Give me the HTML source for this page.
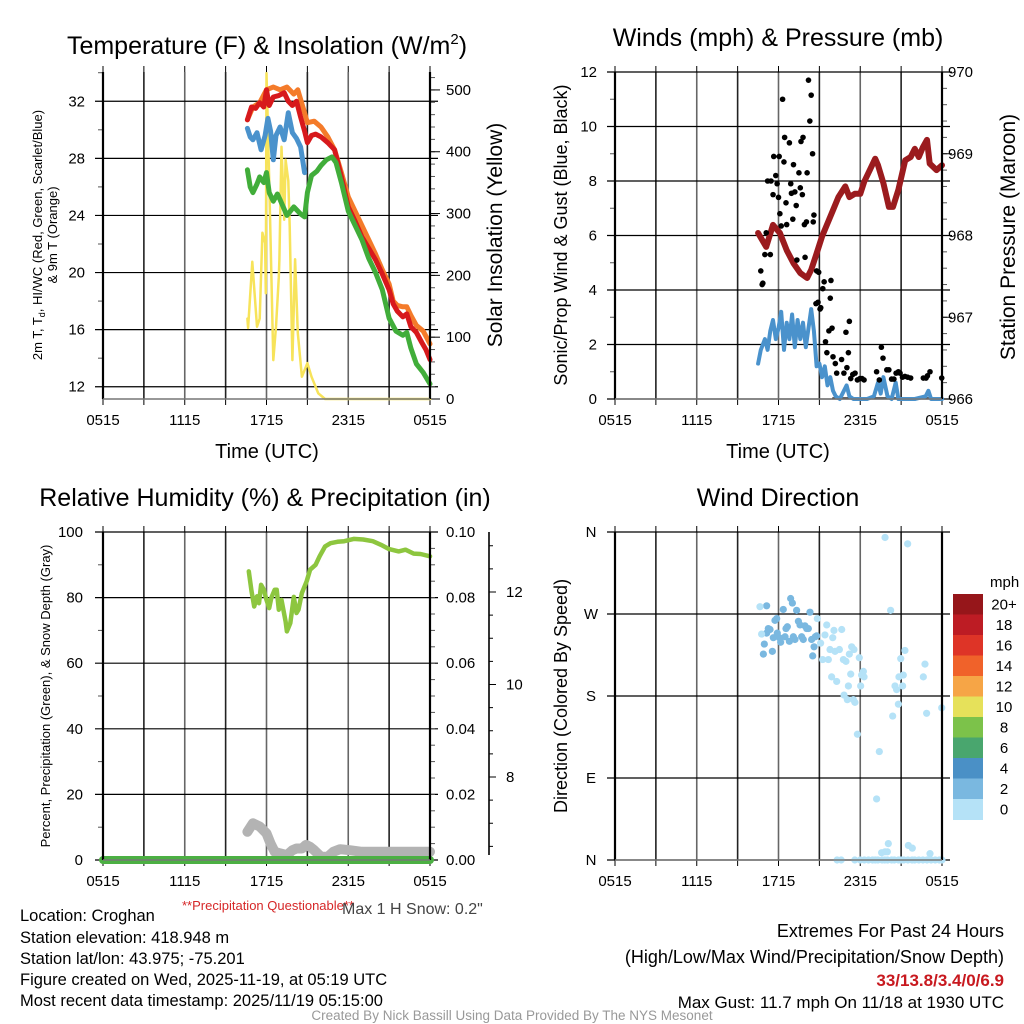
<!DOCTYPE html>
<html><head><meta charset="utf-8"><style>
html,body{margin:0;padding:0;background:#fff}
svg{display:block;font-family:"Liberation Sans",Arial,sans-serif}
</style></head><body>
<svg id="c" width="1024" height="1024" viewBox="0 0 1024 1024">
<g id="g"></g>
<text x="267" y="54" font-size="25" text-anchor="middle">Temperature (F) &amp; Insolation (W/m<tspan font-size="15" dy="-10">2</tspan><tspan dy="10">)</tspan></text>
<text x="778" y="46" font-size="25" text-anchor="middle">Winds (mph) &amp; Pressure (mb)</text>
<text x="265" y="506" font-size="25" text-anchor="middle">Relative Humidity (%) &amp; Precipitation (in)</text>
<text x="778" y="506" font-size="25" text-anchor="middle">Wind Direction</text>
<text x="267" y="458" font-size="20" text-anchor="middle">Time (UTC)</text>
<text x="778" y="458" font-size="20" text-anchor="middle">Time (UTC)</text>
<text transform="translate(42,235) rotate(-90)" font-size="13" text-anchor="middle">2m T, T<tspan font-size="9" dy="3">d</tspan><tspan dy="-3">, HI/WC (Red, Green, Scarlet/Blue)</tspan></text>
<text transform="translate(57,235) rotate(-90)" font-size="13" text-anchor="middle">&amp; 9m T (Orange)</text>
<text transform="translate(502,235) rotate(-90)" font-size="21" text-anchor="middle">Solar Insolation (Yellow)</text>
<text transform="translate(567,235) rotate(-90)" font-size="18" text-anchor="middle">Sonic/Prop Wind &amp; Gust (Blue, Black)</text>
<text transform="translate(1015,237) rotate(-90)" font-size="21" text-anchor="middle">Station Pressure (Maroon)</text>
<text transform="translate(50,696) rotate(-90)" font-size="13" text-anchor="middle">Percent, Precipitation (Green), &amp; Snow Depth (Gray)</text>
<text transform="translate(567,696) rotate(-90)" font-size="18" text-anchor="middle">Direction (Colored By Speed)</text>
<text x="268" y="910" font-size="13" fill="#d62728" text-anchor="middle">**Precipitation Questionable**</text>
<text x="342" y="914" font-size="16" fill="#444">Max 1 H Snow: 0.2"</text>
<g font-size="16.5">
<text x="20" y="921">Location: Croghan</text>
<text x="20" y="943">Station elevation: 418.948 m</text>
<text x="20" y="964">Station lat/lon: 43.975; -75.201</text>
<text x="20" y="985">Figure created on Wed, 2025-11-19, at 05:19 UTC</text>
<text x="20" y="1006">Most recent data timestamp: 2025/11/19 05:15:00</text>
</g>
<g font-size="18" text-anchor="end">
<text x="1004" y="937">Extremes For Past 24 Hours</text>
<text x="1004" y="963">(High/Low/Max Wind/Precipitation/Snow Depth)</text>
<text x="1004" y="986" font-size="17" font-weight="bold" fill="#c8191f">33/13.8/3.4/0/6.9</text>
<text x="1004" y="1008" font-size="17">Max Gust: 11.7 mph On 11/18 at 1930 UTC</text>
</g>
<text x="512" y="1020" font-size="13.5" fill="#999" text-anchor="middle">Created By Nick Bassill Using Data Provided By The NYS Mesonet</text>
</svg>
<script>
// ---- data (hours since 0515 UTC) ----
const xTickLabels = ["0515","1115","1715","2315","0515"];
const tempTicks = [12,16,20,24,28,32];
const solarTicks = [0,100,200,300,400,500];
const windTicks = [0,2,4,6,8,10,12];
const presTicks = [966,967,968,969,970];
const rhTicks = [0,20,40,60,80,100];
const precipTickLabels = ["0.00","0.02","0.04","0.06","0.08","0.10"];
const snowTicks = [8,10,12];
const dirLabels = ["N","E","S","W","N"];
const speedBins = ["0","2","4","6","8","10","12","14","16","18","20+"];
const speedColors = ["#b5e2f7","#7ab8e0","#4a90c6","#49a66e","#7cc24a","#e6e15a","#f6a546","#f0622a","#de3427","#bd1c24","#96161a"];

const redT_h = [10.6,10.9,11.2,11.5,11.8,12.0,12.2,12.5,12.9,13.3,13.6,13.9,14.2,14.5,14.8,15.0,15.3,15.6,16.0,16.5,17.0,17.5,18.0,18.5,19.0,19.5,20.0,20.5,21.0,21.3,21.6,22.0,22.3,22.6,23.0,23.4,23.7,24.0];
const redT_v = [30.7,31.6,31.5,31.9,31.6,32.8,31.7,32.3,32.4,32.6,32.0,31.7,32.0,30.9,29.9,29.1,29.6,29.7,29.5,29.1,28.6,26.7,24.6,23.6,22.5,21.7,20.9,19.9,18.8,17.8,17.3,16.9,17.1,16.2,15.8,15.1,14.6,13.9];
const orgT_h = [10.6,11.0,11.5,12.0,12.5,13.0,13.5,14.0,14.3,14.7,15.0,15.5,16.0,16.5,17.0,17.5,18.0,18.5,19.0,19.5,20.0,20.5,21.0,21.3,21.6,22.0,22.3,22.6,23.0,23.5,24.0];
const orgT_v = [30.7,31.6,31.9,32.8,33.0,32.8,33.0,32.5,32.8,31.5,30.5,30.6,30.2,29.5,28.6,27.0,25.3,24.3,23.3,22.3,21.3,20.2,19.2,18.0,17.7,17.6,17.6,17.0,16.3,15.9,15.0];
const hiwc_h = [10.6,10.8,11.0,11.3,11.6,11.9,12.1,12.3,12.5,12.7,13.0,13.3,13.6,13.9,14.2,14.5,14.8];
const hiwc_v = [30.1,29.5,29.3,29.8,28.6,29.6,30.8,29.9,27.9,29.6,30.2,29.3,31.2,29.8,29.4,28.8,27.0];
const dewT_h = [10.6,10.8,11.0,11.3,11.5,11.8,12.0,12.2,12.5,12.8,13.0,13.5,14.0,14.5,14.8,15.0,15.3,15.7,16.0,16.4,16.8,17.1,17.5,18.0,18.5,19.0,19.5,20.0,20.5,21.0,21.5,22.0,22.3,22.6,23.0,23.5,24.0];
const dewT_v = [27.2,26.0,25.6,26.2,26.7,26.3,27.0,25.6,25.0,25.5,25.1,24.0,24.6,24.1,23.9,25.6,26.8,27.1,27.5,27.9,28.1,27.7,26.3,24.3,23.3,22.3,21.0,20.0,18.8,16.8,15.9,15.6,15.8,14.7,13.6,13.0,12.2];
const solar_h = [10.6,10.65,10.96,11.3,11.5,11.7,11.9,11.95,12.0,12.2,12.5,12.7,12.9,12.95,13.1,13.3,13.4,13.6,13.7,13.9,14.1,14.3,14.6,15.0,15.3,15.8,16.3,24.0];
const solar_v = [130,115,222,117,130,269,252,171,527,354,63,117,197,226,408,290,387,353,280,63,226,107,36,58,36,9,0,0];

const pres_h = [10.5,11.1,11.6,12.1,12.6,13.1,13.6,14.1,14.4,14.8,15.2,15.5,16.0,16.4,16.9,17.2,17.6,18.0,18.3,18.7,19.1,19.3,19.7,20.1,20.4,20.8,21.3,21.7,22.0,22.3,22.6,22.9,23.1,23.6,24.0];
const pres_v = [968.03,967.86,968.13,968.03,967.82,967.66,967.54,967.48,967.58,967.78,967.99,968.11,968.31,968.47,968.6,968.47,968.51,968.51,968.66,968.8,968.94,968.86,968.64,968.35,968.35,968.56,968.92,968.96,969.06,968.96,969.08,969.17,968.88,968.8,968.86];
const wind_h = [10.5,10.7,11.0,11.2,11.4,11.6,11.8,12.0,12.2,12.4,12.6,12.8,13.0,13.2,13.4,13.6,13.8,14.0,14.2,14.4,14.6,14.8,15.0,15.2,15.4,15.6,15.8,16.0,16.2,16.5,16.8,17.0,17.2,17.5,18.0,18.5,19.0,19.3,19.5,19.7,20.0,20.3,20.6,20.8,21.2,22.0,22.8,23.0,23.2,24.0];
const wind_v = [1.3,1.8,2.2,1.8,2.5,2.9,2.2,2.6,3.2,1.8,2.8,2.2,3.1,1.9,2.9,2.2,2.8,1.9,2.6,3.3,2.5,1.2,1.3,0.8,1.2,0.5,0.8,0.3,0.1,0.0,0.3,0.5,0.1,0.0,0.0,0.0,0.1,0.6,0.2,0.8,0.1,0.0,0.6,0.0,0.0,0.0,0.1,0.3,0.0,0.0];
const gust_h = [10.7,10.8,10.85,11.0,11.1,11.4,11.2,11.45,11.6,11.65,11.8,11.9,12.0,12.05,12.1,12.2,12.3,12.4,12.45,12.6,12.55,12.8,12.9,12.95,13.05,13.1,13.2,13.3,13.35,13.5,13.6,13.65,13.75,13.8,13.9,13.95,14.05,14.1,14.2,14.3,14.4,14.5,14.55,14.6,14.8,14.95,14.75,14.9,15.05,15.1,15.25,15.35,15.85,15.8,15.45,15.55,15.7,15.93,16.0,16.17,16.27,16.63,16.8,16.95,17.02,17.13,17.2,17.3,17.45,17.62,17.79,17.98,18.13,18.28,19.2,19.4,19.55,19.67,19.95,20.1,20.3,20.47,20.63,20.8,20.92,21.1,21.28,21.48,21.7,22.63,22.83,22.93,23.12,23.98];
const gust_v = [4.7,4.2,4.25,5.3,6.1,5.3,8.0,8.0,7.5,8.9,8.2,7.9,7.4,8.9,6.8,6.35,11.0,8.7,9.6,6.4,7.2,9.4,7.9,7.55,6.6,8.6,7.6,7.1,5.1,8.3,7.75,9.45,7.5,9.6,6.4,5.2,6.5,8.3,11.7,10.2,11.15,9.0,6.5,6.75,4.7,4.65,3.5,3.55,3.3,3.35,4.05,4.3,4.35,3.7,2.1,1.7,2.5,2.6,1.55,1.3,0.95,1.45,0.95,2.45,1.15,1.7,2.85,0.75,0.9,0.95,0.7,0.75,0.75,0.7,1.0,0.7,1.9,1.5,1.07,1.07,0.73,0.73,0.95,1.0,0.95,0.8,0.83,0.8,0.77,0.77,0.77,0.85,1.0,0.77];

const rh_h = [10.7,10.9,11.1,11.3,11.45,11.6,11.8,12.0,12.2,12.35,12.6,12.75,12.9,13.1,13.4,13.5,13.75,14.0,14.2,14.35,14.6,14.95,15.2,15.6,15.9,16.3,16.7,17.2,17.7,18.4,19.1,19.8,20.4,21.0,21.7,22.2,22.8,23.3,24.0];
const rh_v = [88,82,77.3,80.4,78.3,83.9,82.4,79.3,76.8,79.9,82.4,82.4,76.3,79.3,72.7,69.7,72.2,80.2,75.3,76.3,81.4,85.0,88.5,90.0,92.6,95.6,96.6,97.0,97.2,97.9,97.7,97.2,96.1,94.8,94.1,94.6,93.4,93.3,92.6];
const snow_h = [10.6,11.0,11.5,12.0,12.3,12.6,13.0,13.5,13.9,14.2,14.6,14.9,15.2,15.5,16.0,16.5,16.9,17.4,18.1,19.0,24.0];
const snow_v = [8.6,11.2,10.2,8.1,5.0,2.5,2.0,1.5,3.0,3.5,3.5,4.6,4.0,3.0,1.0,1.0,2.5,3.3,3.0,2.5,2.5];
const precip_h = [0,24];
const precip_v = [0,0];

const dir_h = [11.13,10.89,10.96,11.13,11.25,11.38,11.55,11.62,11.74,11.87,11.91,12.06,12.16,12.35,12.48,12.55,12.65,12.8,12.89,13.02,13.09,13.21,13.33,13.46,13.58,13.7,13.82,13.94,14.07,14.19,14.31,14.43,14.51,14.61,14.7,14.8,
 10.64,10.76,14.85,15.09,15.24,15.41,15.54,15.66,15.78,15.9,15.98,16.07,16.15,16.27,16.47,16.64,16.76,16.81,16.95,17.05,17.13,17.2,17.3,17.37,17.49,17.54,17.61,17.79,17.93,18.03,18.1,18.23,18.28,19.2,19.4,19.82,20.06,20.23,20.38,20.55,20.67,20.8,20.84,20.97,21.11,21.16,21.28,21.48,21.53,21.82,22.63,22.75,22.87,23.12,23.98,19.57,19.82,19.99,
 16.3,16.6,17.6,18.0,18.3,18.6,18.9,19.1,19.3,19.6,19.8,20.0,20.3,20.5,20.8,21.0,21.2,21.5,21.8,22.0,22.3,22.6,22.9,23.2,23.5,23.8,24.0];
const dir_v = [279,226,237,249,254,253,229,244,263,265,249,244,239,275,245,254,256,240,287,282,245,242,274,262,258,245,242,257,254,254,272,242,224,234,245,246,
 278,248,265,238,220,247,258,220,231,201,244,252,229,196,231,253,220,181,218,176,191,226,204,234,176,231,173,138,222,191,203,207,201,67,119,354,18,274,158,191,187,171,201,221,191,203,230,347,16,13,201,215,161,7,167,8,9,9,
 0,0,0,0,0,0,0,0,0,0,0,0,0,0,0,0,0,0,0,0,0,0,0,0,0,0,0];
const dir_speed = [3,3,3,3,3,3,3,3,3,3,3,3,3,3,3,3,3,3,3,3,3,3,3,3,3,3,3,3,3,3,3,3,3,3,3,3,
 1,1,1,1,1,1,1,1,1,1,1,1,1,1,1,1,1,1,1,1,1,1,1,1,1,1,1,1,1,1,1,1,1,1,1,1,1,1,1,1,1,1,1,1,1,1,1,1,1,1,1,1,1,1,1,1,1,1,
 1,1,1,1,1,1,1,1,1,1,1,1,1,1,1,1,1,1,1,1,1,1,1,1,1,1,1];

// ---- drawing ----
const NS="http://www.w3.org/2000/svg";
const G=document.getElementById('g');
function el(t,a,p){const e=document.createElementNS(NS,t);for(const k in a)e.setAttribute(k,a[k]);(p||G).appendChild(e);return e;}
function lin(d0,d1,r0,r1){return v=>r0+(v-d0)/(d1-d0)*(r1-r0);}
function poly(hs,vs,sx,sy){return hs.map((h,i)=>sx(h).toFixed(1)+','+sy(vs[i]).toFixed(1)).join(' ');}

function frame(x0,x1,y0,y1,name,xlabY){
  const g=el('g',{});
  
  
  const sx=lin(0,24,x0,x1);
  for(let h=0;h<=24;h+=3){
    const x=sx(h);
    el('line',{x1:x,x2:x,y1:y0,y2:y1,stroke:(h%6===0)?'#666':'#222','stroke-width':1.6},g);
    el('line',{x1:x,x2:x,y1:y0-6,y2:y0,stroke:'#000','stroke-width':1},g);
    el('line',{x1:x,x2:x,y1:y1,y2:y1+6,stroke:'#000','stroke-width':1},g);
  }
  xTickLabels.forEach((t,i)=>{
    const tx=el('text',{x:sx(i*6),y:xlabY,'font-size':15,'text-anchor':'middle'},g);
    
    
    tx.textContent=t;
  });
  return {g,sx};
}
function hgrid(g,ys,x0,x1){ys.forEach(y=>{el('line',{x1:x0-8,x2:x1+8,y1:y,y2:y,stroke:'#000','stroke-width':1.2},g);});}
function borders(g,x0,x1,y0,y1){
  el('line',{x1:x0,x2:x0,y1:y0,y2:y1,stroke:'#000','stroke-width':2.2},g);
  el('line',{x1:x1,x2:x1,y1:y0,y2:y1,stroke:'#000','stroke-width':2.2},g);
  el('line',{x1:x0,x2:x1,y1:y1,y2:y1,stroke:'#777','stroke-width':1.6},g);
}
function minor(g,ys,x,dir){ys.forEach(y=>el('line',{x1:x,x2:x+dir*5,y1:y,y2:y,stroke:'#555','stroke-width':1},g));}
function label(g,x,y,t,anchor,name){const e=el('text',{x:x,y:y+5,'font-size':15,'text-anchor':anchor},g);e.textContent=t;return e;}
function line(g,hs,vs,sx,sy,color,w,name){const p=el('polyline',{points:poly(hs,vs,sx,sy),fill:'none',stroke:color,'stroke-width':w,'stroke-linejoin':'round','stroke-linecap':'round'},g);return p;}

// Panel 1
(function(){
  const x0=103,x1=430,y0=72,y1=399;
  const {g,sx}=frame(x0,x1,y0,y1,'temperature',425);
  const sy=lin(11.14,34.05,y1,y0), sr=lin(0,529,y1,y0);
  hgrid(g,tempTicks.map(sy),x0,x1);
  const mins=[];for(let v=14;v<=34;v+=4)mins.push(sy(v));minor(g,mins,x0,-1);
  const rm=[];for(let v=0;v<=520;v+=20)rm.push(sr(v));minor(g,rm,x1,1);
  solarTicks.forEach(v=>{el('line',{x1:x1,x2:x1+10,y1:sr(v),y2:sr(v),stroke:'#000'},g);label(g,446,sr(v),String(v),'start','solar-tick-label');});
  tempTicks.forEach(v=>label(g,85,sy(v),String(v),'end','temp-tick-label'));
  line(g,solar_h,solar_v,sx,sr,'#f7e35a',2.5,'solar-insolation-line');
  line(g,orgT_h,orgT_v,sx,sy,'#f47b2a',5,'9m-temperature-line');
  line(g,redT_h,redT_v,sx,sy,'#d7191c',5,'2m-temperature-line');
  line(g,dewT_h,dewT_v,sx,sy,'#41ad3a',5,'dewpoint-line');
  line(g,hiwc_h,hiwc_v,sx,sy,'#4a92cc',5,'windchill-line');
  borders(g,x0,x1,y0,y1);
})();

// Panel 2
(function(){
  const x0=615,x1=942,y0=72,y1=399;
  const {g,sx}=frame(x0,x1,y0,y1,'winds',425);
  const sy=lin(0,12,y1,y0), sp=lin(966,970,y1,y0);
  hgrid(g,windTicks.map(sy),x0,x1);
  const mins=[];for(let v=1;v<12;v+=2)mins.push(sy(v));minor(g,mins,x0,-1);
  const rm=[];for(let v=966;v<=970;v+=0.2)rm.push(sp(v));minor(g,rm,x1,1);
  windTicks.forEach(v=>label(g,597,sy(v),String(v),'end','wind-tick-label'));
  presTicks.forEach(v=>{el('line',{x1:x1,x2:x1+10,y1:sp(v),y2:sp(v),stroke:'#000'},g);label(g,948,sp(v),String(v),'start','pressure-tick-label');});
  line(g,[16,24],[0.03,0.03],sx,sy,'#333',2,'calm-baseline');
  line(g,wind_h,wind_v,sx,sy,'#4a92cc',4,'sonic-wind-line');
  line(g,pres_h,pres_v,sx,sp,'#9b1b1e',6,'station-pressure-line');
  gust_h.forEach((h,i)=>{
    const c=el('circle',{cx:sx(h),cy:sy(gust_v[i]),r:2.8,fill:'#000'},g);
    
    
  });
  borders(g,x0,x1,y0,y1);
})();

// Panel 3
(function(){
  const x0=103,x1=430,y0=532,y1=860;
  const {g,sx}=frame(x0,x1,y0,y1,'humidity',886);
  const sy=lin(0,100,y1,y0);
  hgrid(g,rhTicks.map(sy),x0,x1);
  const mins=[];for(let v=10;v<100;v+=20)mins.push(sy(v));minor(g,mins,x0,-1);
  const rm=[];for(let v=5;v<100;v+=5)rm.push(sy(v));minor(g,rm,x1,1);
  rhTicks.forEach(v=>label(g,83,sy(v),String(v),'end','rh-tick-label'));
  precipTickLabels.forEach((t,i)=>label(g,446,sy(i*20),t,'start','precip-tick-label'));
  const ss=lin(8,12,777,592);
  const ax=el('line',{x1:489,x2:489,y1:y0,y2:y1-5,stroke:'#000','stroke-width':1.6},g);
  
  
  for(let v=6.5;v<=13.3;v+=0.5){el('line',{x1:489,x2:493,y1:ss(v),y2:ss(v),stroke:'#000'},g);}
  snowTicks.forEach(v=>{el('line',{x1:489,x2:496,y1:ss(v),y2:ss(v),stroke:'#000'},g);label(g,506,ss(v),String(v),'start','snow-tick-label');});
  line(g,snow_h,snow_v,sx,sy,'#b3b3b3',10,'snow-depth-line');
  line(g,precip_h,precip_v,sx,sy,'#4cb043',8,'precipitation-line');
  line(g,rh_h,rh_v,sx,sy,'#8dc63f',4.5,'relative-humidity-line');
  borders(g,x0,x1,y0,y1);
})();

// Panel 4
(function(){
  const x0=615,x1=942,y0=532,y1=860;
  const {g,sx}=frame(x0,x1,y0,y1,'direction',886);
  const sy=lin(0,360,y1,y0);
  hgrid(g,[0,90,180,270,360].map(sy),x0,x1);
  dirLabels.forEach((t,i)=>label(g,591,sy(i*90),t,'middle','direction-tick-label'));
  dir_h.forEach((h,i)=>{
    const c=el('circle',{cx:sx(h),cy:sy(dir_v[i]),r:3.6,fill:speedColors[Math.min(10,Math.floor(dir_speed[i]/2))]},g);
    
    
  });
  borders(g,x0,x1,y0,y1);
  const lg=el('g',{});
  
  
  const t=el('text',{x:990,y:587,'font-size':15},lg);t.textContent='mph';
  const bh=20.5;
  for(let i=0;i<speedBins.length;i++){
    const k=speedBins.length-1-i, y=594+i*bh;
    const r=el('rect',{x:953,y:y,width:30,height:bh+0.5,fill:speedColors[k]},lg);
    
    
    const tx=el('text',{x:1004,y:y+bh/2+5,'font-size':15,'text-anchor':'middle'},lg);
    
    
    tx.textContent=speedBins[k];
  }
})();
</script>
</body></html>
